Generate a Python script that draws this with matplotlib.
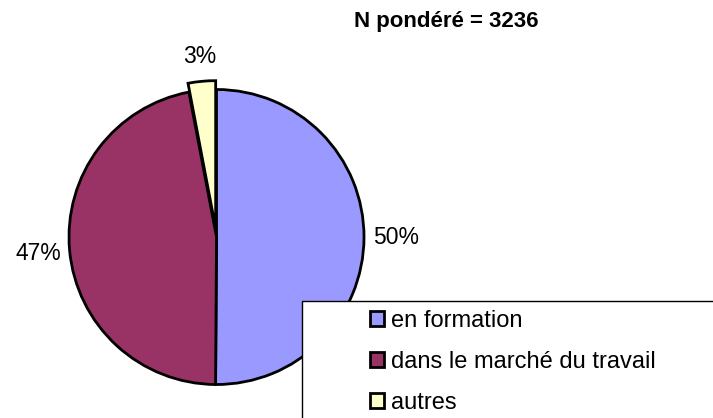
#!/usr/bin/env python3
"""Pie chart: situation des répondants (N pondéré = 3236). -> out.png"""
import matplotlib
matplotlib.use("Agg")
import matplotlib.pyplot as plt
from matplotlib.patches import Rectangle
import numpy as np

LABELS = ["en formation", "dans le marché du travail", "autres"]
SHARES = [50.1, 46.9, 3.0]
PCT_TEXT = ["50%", "47%", "3%"]
TITLE = "N pondéré = 3236"

COLORS = ["#9999FF", "#993366", "#FFFFCC"]
EXPLODE = [0, 0, 0.06]
LABEL_R = [1.22, 1.21, 1.17]

plt.rcParams.update({"font.family": ["Liberation Sans", "DejaVu Sans"]})

W, H, DPI = 713, 418, 100
CX, CY, R = 216.5, 237, 147.5  # pie centre / radius in pixels

fig = plt.figure(figsize=(W / DPI, H / DPI), dpi=DPI)
ax = fig.add_axes([0, 0, 1, 1])
ax.axis("off")

wedges, _ = ax.pie(SHARES, colors=COLORS, explode=EXPLODE, startangle=90,
                   counterclock=False, radius=1,
                   wedgeprops=dict(edgecolor="black", linewidth=2.0))
ax.set_aspect("auto")
ax.set_xlim(-CX / R, (W - CX) / R); ax.set_ylim(-(H - CY) / R, CY / R)

for w, txt, r, ex in zip(wedges, PCT_TEXT, LABEL_R, EXPLODE):
    th = np.deg2rad((w.theta1 + w.theta2) / 2)
    ax.text((r + ex) * np.cos(th), (r + ex) * np.sin(th), txt,
            ha="center", va="center", fontsize=16.5)

fig.text(446 / W, 1 - 22 / H, TITLE, ha="center", va="center",
         fontsize=16, fontweight="bold")

# legend frame running off the canvas
fig.patches.append(Rectangle((302 / W, -0.1), 1.0, 1 - 301 / H + 0.1,
                             transform=fig.transFigure, facecolor="white",
                             edgecolor="black", linewidth=1.0, zorder=5))
leg = fig.legend(wedges, LABELS, loc="upper left",
                 bbox_to_anchor=(370 / W, 1 - 310 / H), frameon=False,
                 fontsize=17, borderpad=0, borderaxespad=0,
                 handlelength=0.6, handleheight=0.6, handletextpad=0.3,
                 labelspacing=0.8)
leg.set_zorder(6)

fig.savefig("out.png", dpi=DPI)
